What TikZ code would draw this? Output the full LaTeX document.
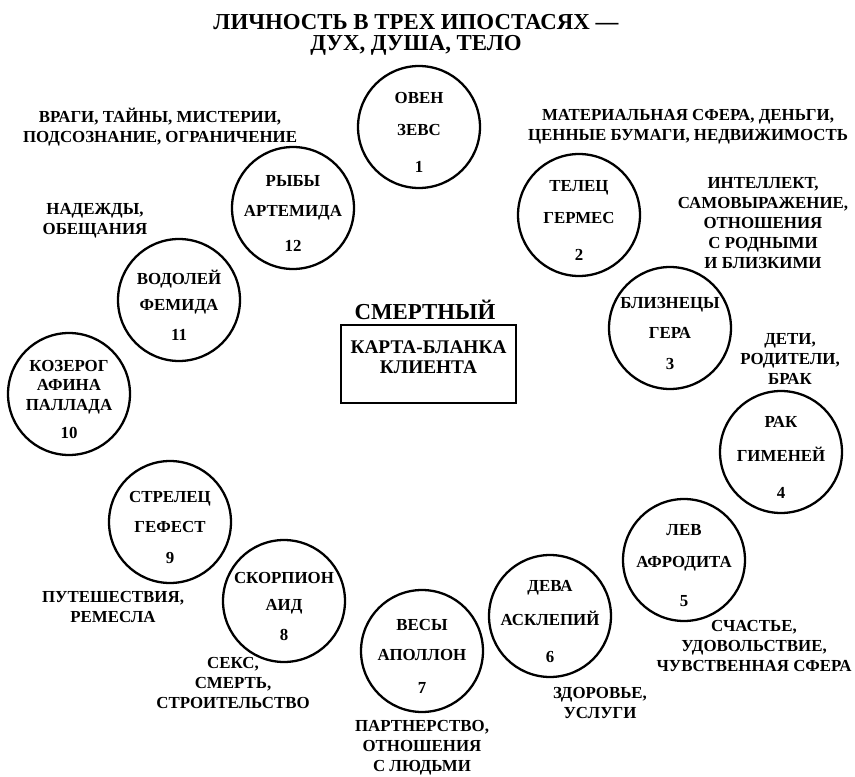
\documentclass[tikz,border=0pt]{standalone}
\usepackage{fontspec}
\setmainfont{Liberation Serif}

\begin{document}
\begin{tikzpicture}[x=0.02cm,y=-0.02cm]
  \tikzstyle{sign}=[draw,circle,line width=1.3pt,minimum size=2.44cm,inner sep=0pt]
  \tikzstyle{signtext}=[align=center,inner sep=0pt,yshift=-0.11cm,
    font=\fontsize{9.6}{11}\selectfont\bfseries]
  \tikzstyle{area}=[align=center,inner sep=0pt,font=\fontsize{9.6}{11.4}\selectfont\bfseries]
  \tikzstyle{head}=[align=center,inner sep=0pt,font=\fontsize{13}{12}\selectfont\bfseries]
  \tikzstyle{card}=[draw,line width=1.3pt,minimum width=3.5cm,minimum height=1.56cm,
    align=center,inner sep=0pt,font=\fontsize{11}{11.4}\selectfont\bfseries]

  \useasboundingbox (0,0) rectangle (855,777);

  % -- Title --
  \node[head] (title) at (416,35) {ЛИЧНОСТЬ В ТРЕХ ИПОСТАСЯХ —\\ДУХ, ДУША, ТЕЛО};

  % -- Centre: client card --
  \node[head] (mortal) at (425,310) {СМЕРТНЫЙ};
  \node[card] (card) at (428.5,364) {КАРТА-БЛАНКА\\КЛИЕНТА\rule[-8pt]{0pt}{8pt}};

  % -- Houses --
  \node[sign] (s1) at (419,127) {};
  \node[signtext] (t1) at (s1) {ОВЕН\\[7pt]ЗЕВС\\[10pt]1};
  \node[sign] (s2) at (579,215) {};
  \node[signtext] (t2) at (s2) {ТЕЛЕЦ\\[7pt]ГЕРМЕС\\[10pt]2};
  \node[sign] (s3) at (670,328) {};
  \node[signtext] (t3) at (s3) {БЛИЗНЕЦЫ\\[6pt]ГЕРА\\[7pt]3};
  \node[sign] (s4) at (781,452) {};
  \node[signtext] (t4) at (s4) {РАК\\[8pt]ГИМЕНЕЙ\\[10pt]4};
  \node[sign] (s5) at (684,560) {};
  \node[signtext] (t5) at (s5) {ЛЕВ\\[7pt]АФРОДИТА\\[11pt]5};
  \node[sign] (s6) at (550,616) {};
  \node[signtext] (t6) at (s6) {ДЕВА\\[8pt]АСКЛЕПИЙ\\[10pt]6};
  \node[sign] (s7) at (422,651) {};
  \node[signtext] (t7) at (s7) {ВЕСЫ\\[6pt]АПОЛЛОН\\[8pt]7};
  \node[sign] (s8) at (284,601) {};
  \node[signtext] (t8) at (s8) {СКОРПИОН\\[4pt]АИД\\[6pt]8};
  \node[sign] (s9) at (170,522) {};
  \node[signtext] (t9) at (s9) {СТРЕЛЕЦ\\[6pt]ГЕФЕСТ\\[7pt]9};
  \node[sign] (s10) at (69,394) {};
  \node[signtext] (t10) at (s10) {КОЗЕРОГ\\АФИНА\\ПАЛЛАДА\\[5pt]10};
  \node[sign] (s11) at (179,300) {};
  \node[signtext] (t11) at (s11) {ВОДОЛЕЙ\\[4pt]ФЕМИДА\\[6pt]11};
  \node[sign] (s12) at (293,208) {};
  \node[signtext] (t12) at (s12) {РЫБЫ\\[6pt]АРТЕМИДА\\[9pt]12};

  % -- Spheres of life --
  \node[area] (a1) at (688,127) {МАТЕРИАЛЬНАЯ СФЕРА, ДЕНЬГИ,\\ЦЕННЫЕ БУМАГИ, НЕДВИЖИМОСТЬ};
  \node[area] (a2) at (763,223) {ИНТЕЛЛЕКТ,\\САМОВЫРАЖЕНИЕ,\\ОТНОШЕНИЯ\\С РОДНЫМИ\\И БЛИЗКИМИ};
  \node[area] (a3) at (790,359) {ДЕТИ,\\РОДИТЕЛИ,\\БРАК};
  \node[area] (a4) at (754,646) {СЧАСТЬЕ,\\УДОВОЛЬСТВИЕ,\\ЧУВСТВЕННАЯ СФЕРА};
  \node[area] (a5) at (600,703) {ЗДОРОВЬЕ,\\УСЛУГИ};
  \node[area] (a6) at (422,748) {ПАРТНЕРСТВО,\\ОТНОШЕНИЯ\\С ЛЮДЬМИ};
  \node[area] (a7) at (233,683) {СЕКС,\\СМЕРТЬ,\\СТРОИТЕЛЬСТВО};
  \node[area] (a8) at (113,607) {ПУТЕШЕСТВИЯ,\\РЕМЕСЛА};
  \node[area] (a9) at (95,221) {НАДЕЖДЫ,\\ОБЕЩАНИЯ};
  \node[area] (a10) at (160,127) {ВРАГИ, ТАЙНЫ, МИСТЕРИИ,\\ПОДСОЗНАНИЕ, ОГРАНИЧЕНИЕ};
\end{tikzpicture}
\end{document}
